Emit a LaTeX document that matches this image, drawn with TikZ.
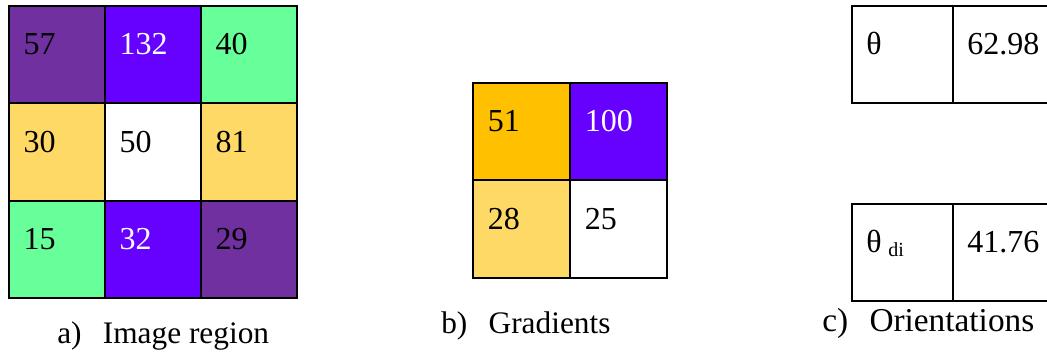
\documentclass[tikz,border=0pt]{standalone}
\usepackage{fontspec}
\setmainfont{Liberation Serif}

\definecolor{darkpurple}{HTML}{7030A0}
\definecolor{brightviolet}{HTML}{6600FF}
\definecolor{mint}{HTML}{66FF99}
\definecolor{lightgold}{HTML}{FFD966}
\definecolor{gold}{HTML}{FFC000}

\tikzset{
    cell/.style={draw, line width=1.5pt, outer sep=0pt, inner xsep=11pt,
        minimum width=72pt, minimum height=73pt, text width=50pt, align=left,
        text height=0pt, text depth=0pt, font=\fontsize{24pt}{28pt}\selectfont},
    widecell/.style={cell, minimum width=75.75pt, minimum height=72.5pt, text width=53.75pt},
    caption/.style={anchor=base west, inner sep=0pt, font=\fontsize{23.5pt}{28pt}\selectfont}
}

\begin{document}
\begin{tikzpicture}[x=0.75pt, y=-0.75pt]
    \useasboundingbox (0,0) rectangle (1047,358);
    % a) image region
    \foreach \val/\clr/\tclr [count=\i from 0] in {57/darkpurple/black, 132/brightviolet/white, 40/mint/black,
            30/lightgold/black, 50/white/black, 81/lightgold/black,
            15/mint/black, 32/brightviolet/white, 29/darkpurple/black} {
        \pgfmathtruncatemacro{\rr}{\i/3}
        \pgfmathtruncatemacro{\cc}{mod(\i,3)}
        \node[cell, fill=\clr, text=\tclr] (a\rr\cc) at (57+96*\cc, 54.7+97.3*\rr) {\val};
    }
    \node[caption] (capA) at (57,343) {a)\hspace{16pt}Image region};

    % b) gradients
    \foreach \val/\clr/\tclr [count=\i from 0] in {51/gold/black, 100/brightviolet/white,
            28/lightgold/black, 25/white/black} {
        \pgfmathtruncatemacro{\rr}{\i/2}
        \pgfmathtruncatemacro{\cc}{mod(\i,2)}
        \node[cell, fill=\clr, text=\tclr, minimum width=72.75pt, minimum height=73.25pt] (b\rr\cc) at (521.2+97*\cc, 131.5+97.7*\rr) {\val};
    }
    \node[caption] (capB) at (441,333) {b)\hspace{16pt}Gradients};

    % c) orientations
    \node[widecell] (c10) at (902.2,54.3) {θ};
    \node[widecell] (c11) at (1003.2,54.3) {62.98};
    \node[widecell] (c20) at (902.2,252.5) {θ\hspace{5pt}\raisebox{-3pt}{\fontsize{15pt}{18pt}\selectfont di}};
    \node[widecell] (c21) at (1003.2,252.5) {41.76};
    \node[caption, font=\fontsize{25pt}{28pt}\selectfont] (capC) at (822,331) {c)\hspace{16pt}Orientations};
\end{tikzpicture}
\end{document}
